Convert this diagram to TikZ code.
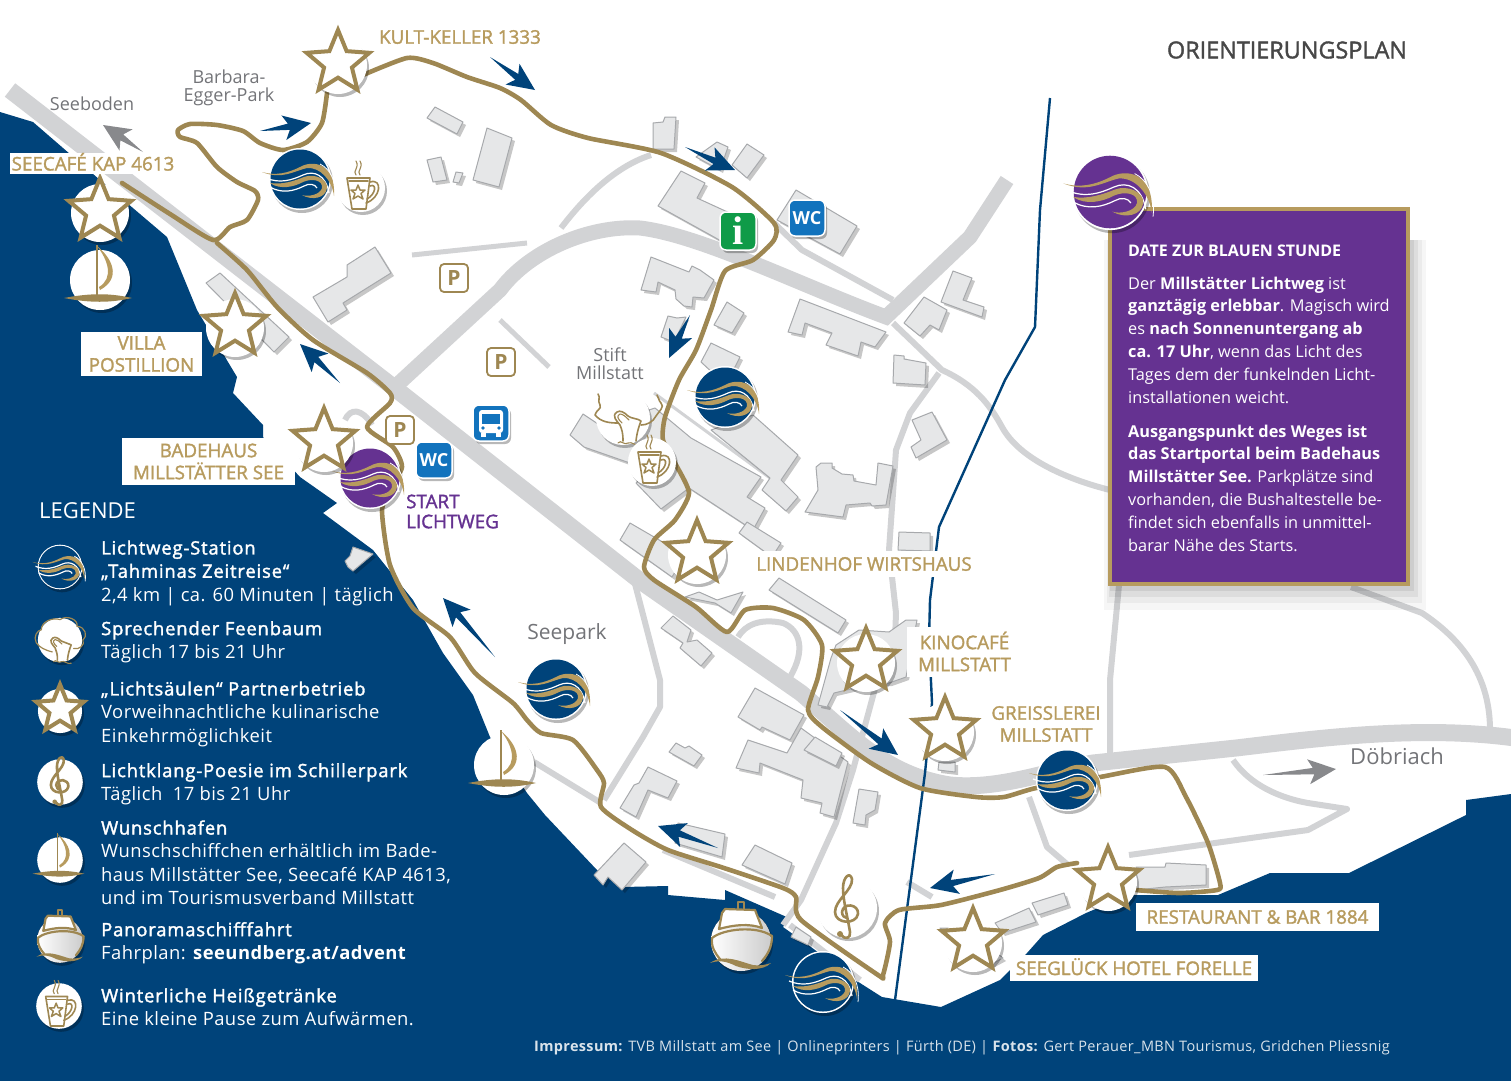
\documentclass[tikz,border=0pt]{standalone}
\usepackage{fontspec}
\usetikzlibrary{shapes.geometric,shadows}
\setmainfont{Open Sans}
\newfontfamily\labelfont[FakeBold=1.6]{Open Sans}
\newfontfamily\legendfont[LetterSpace=2.5]{Open Sans}
\newfontfamily\legendhead[LetterSpace=4.6,FakeBold=1.8]{Open Sans}
\newfontfamily\footfont[LetterSpace=2.3]{Open Sans}
\newfontfamily\signfont{Liberation Serif}
\newcommand{\lh}[1]{{\legendhead #1}}

\definecolor{seablue}{RGB}{0,67,122}
\definecolor{roadgrey}{RGB}{210,211,213}
\definecolor{housefill}{RGB}{230,231,232}
\definecolor{houseline}{RGB}{167,169,172}
\definecolor{trailgold}{RGB}{158,135,82}
\definecolor{labelgold}{RGB}{183,155,94}
\definecolor{lichtpurple}{RGB}{101,50,145}
\definecolor{placegrey}{RGB}{115,116,120}
\definecolor{signblue}{RGB}{18,115,189}
\definecolor{signgreen}{RGB}{15,155,72}

\tikzset{
  softshadow/.style={drop shadow={shadow xshift=2pt,shadow yshift=-3pt,opacity=.28,fill=black}},
  house/.style={fill=housefill,draw=houseline,line width=1pt,line join=round,drop shadow={shadow xshift=3pt,shadow yshift=-3pt,opacity=.22,fill=black}},
  bigroad/.style={draw=roadgrey,line width=17pt},
  midroad/.style={draw=roadgrey,line width=6pt,line join=round},
  trail/.style={draw=trailgold,line width=4.6pt,line join=round,line cap=round},
  goldlabel/.style={fill=white,text=labelgold,font=\labelfont\fontsize{18.8}{22}\selectfont,align=center,inner sep=0pt},
  placename/.style={text=placegrey,font=\fontsize{18}{18}\selectfont,align=center,inner sep=0pt},
  legendtext/.style={text=white,anchor=west,align=left,inner sep=0pt,font=\legendfont\fontsize{18.4}{23.3}\selectfont},
  starmark/.style={star,star points=5,star point ratio=2.25,minimum size=66pt,inner sep=0pt,draw=trailgold,line width=4pt,fill=white,transform shape},
  goldfine/.style={draw=trailgold,line width=1.6pt,line cap=round,line join=round},
  parking/.style={draw=trailgold,fill=white,line width=1.8pt,rounded corners=4pt,minimum size=28pt,inner sep=0pt,text=trailgold,font=\bfseries\fontsize{21}{21}\selectfont},
  roadsign/.style={draw=white,line width=1.5pt,rounded corners=6pt,minimum size=36pt,inner sep=0pt,text=white,softshadow},
}

% direction dart: colour, tail x, tail y, tip x, tip y
\newcommand{\flowdart}[5]{%
  \pgfmathsetmacro\dartang{atan2(#5-#3,#4-#2)}%
  \pgfmathsetmacro\dartlen{veclen(#5-#3,#4-#2)}%
  \begin{scope}[shift={(#2,#3)},rotate=-\dartang]
    \fill[#1] (0,0) -- (\dartlen-23,-3) -- (\dartlen-28,-12) -- (\dartlen,0) -- (\dartlen-27,13) -- (\dartlen-22,3.5) -- cycle;
  \end{scope}}

% the swirl bands of a light station
\newcommand{\swirl}{%
  \draw[white,line width=1.2pt] (-34,-1) .. controls (-20,5) and (-8,1) .. (3,-4) .. controls (14,-9) and (26,-4) .. (29,14);
  \draw[white,line width=1.2pt] (-30,8) .. controls (-18,15) and (-6,12) .. (4,7) .. controls (9,4) and (15,5) .. (17,9);
  \fill[labelgold] (-38,-7) .. controls (-24,-3) and (-12,-6) .. (0,-12) .. controls (12,-19) and (36,-17) .. (34,17) .. controls (32,1) and (20,-12) .. (7,-11) .. controls (-6,-8) and (-18,1) .. (-38,-7) -- cycle;
  \draw[white,line width=.8pt] (20,-15) .. controls (30,-10) and (37,2) .. (35,20);
  \fill[labelgold] (-30,4) .. controls (-18,6) and (-6,2) .. (4,-2) .. controls (14,-6) and (28,0) .. (27,9) .. controls (26,19) and (12,22) .. (2,16) .. controls (8,18) and (20,16) .. (22,9) .. controls (23,1) and (12,-1) .. (3,3) .. controls (-6,8) and (-20,11) .. (-30,4) -- cycle;
}
\newcommand{\stationmark}[4]{%
  \begin{scope}[shift={(#1,#2)},scale=#3]
    \fill[white,softshadow] (0,0) circle (31pt);
    \fill[#4] (0,0) circle (29.5pt);
    \swirl
  \end{scope}}

% star of a partner house: name, x, y, scale
\newcommand{\partnerstar}[4]{%
  \begin{scope}[shift={(#2,#3)},scale=#4]
    \fill[white,softshadow] (0,0) circle (29pt);
    \node[starmark] (#1) at (0,-2) {};
  \end{scope}}

\newcommand{\sailmark}[3]{%
  \begin{scope}[shift={(#1,#2)},scale=#3]
    \fill[white,softshadow] (0,0) circle (30pt);
    \fill[trailgold] (-36,18) .. controls (-10,13) and (10,13) .. (32,18) .. controls (10,23) and (-10,23) .. (-36,18) -- cycle;
    \fill[trailgold] (-4,-35) -- (-2,-35) -- (-2,16) -- (-4,16) -- cycle;
    \fill[labelgold] (-3,-34) .. controls (12,-22) and (22,-2) .. (0,10) -- (-1,7) .. controls (14,-2) and (8,-20) .. (-3,-34) -- cycle;
  \end{scope}}

\newcommand{\cupmark}[3]{%
  \begin{scope}[shift={(#1,#2)},scale=#3]
    \fill[white,softshadow] (0,0) circle (24pt);
    \draw[goldfine] (-14,-10) -- (9,-10) -- (5,21) -- (-9,21) -- cycle;
    \draw[goldfine] (-12,-7) -- (7,-7);
    \draw[goldfine] (9,-6) .. controls (22,-10) and (20,10) .. (5,15);
    \draw[goldfine] (9,-2) .. controls (16,-5) and (15,6) .. (6,11);
    \draw[goldfine,line width=1.5pt] (-3,-3) -- (-1,2) -- (4,2) -- (0,5.5) -- (2,11) -- (-3,8) -- (-8,11) -- (-6,5.5) -- (-10,2) -- (-5,2) -- cycle;
    \draw[goldfine,line width=1.1pt] (-5,-13) .. controls (-9,-17) and (-1,-20) .. (-5,-27);
    \draw[goldfine,line width=1.1pt] (-1,-13) .. controls (-5,-17) and (3,-20) .. (-1,-27);
  \end{scope}}

\newcommand{\clefmark}[3]{%
  \begin{scope}[shift={(#1,#2)},scale=#3]
    \fill[white,softshadow] (0,0) circle (30pt);
    \draw[goldfine,line width=2.6pt] (-6,26) .. controls (-2,33) and (4,30) .. (3,24) .. controls (0,6) and (-4,-8) .. (-4,-20) .. controls (-4,-31) and (3,-37) .. (5,-29) .. controls (6,-18) and (-12,-8) .. (-12,4) .. controls (-12,16) and (9,17) .. (11,6) .. controls (12,-4) and (-4,-6) .. (-5,4) .. controls (-5,8) and (-2,10) .. (0,10);
    \fill[trailgold] (-7,26) circle (3pt);
  \end{scope}}

% tree trunk alone, then with its crown or its bare branches
\newcommand{\feentrunk}{%
  \draw[goldfine,fill=white] (0,23) .. controls (0,15) and (-1,12) .. (-3,7) .. controls (-6,3) and (-12,-2) .. (-6,-6) .. controls (-3,-8) and (1,-6) .. (5,-2) .. controls (9,1) and (14,0) .. (18,3) .. controls (16,8) and (14,14) .. (13,23);
  \draw[goldfine,line width=1.1pt] (-1,5) .. controls (-5,1) and (-7,-2) .. (-3,-4) .. controls (0,-4) and (3,-1) .. (6,2);
  \draw[goldfine,line width=1.1pt] (-5,25) .. controls (-2,21) and (1,28) .. (5,25) .. controls (9,23) and (13,29) .. (18,27);
}
\newcommand{\feenmark}[3]{%
  \begin{scope}[shift={(#1,#2)},scale=#3]
    \fill[white,softshadow] (0,0) circle (27pt);
    \feentrunk
    \draw[goldfine] (-5,5) .. controls (-14,5) and (-22,4) .. (-28,-3) .. controls (-27,-8) and (-21,-9) .. (-23,-13) .. controls (-26,-18) and (-22,-20) .. (-25,-24);
    \draw[goldfine] (18,7) .. controls (24,7) and (30,4) .. (33,-2) .. controls (36,-7) and (42,-11) .. (38,-15) .. controls (35,-18) and (36,-21) .. (34,-23);
  \end{scope}}
\newcommand{\feencrown}[3]{%
  \begin{scope}[shift={(#1,#2)},scale=#3]
    \fill[white,softshadow] (0,0) circle (26pt);
    \draw[goldfine,line width=1.2pt] (-9,14) .. controls (-18,12) and (-25,8) .. (-28,3) .. controls (-32,-4) and (-26,-12) .. (-22,-12) .. controls (-22,-22) and (-8,-27) .. (0,-24) .. controls (8,-30) and (22,-24) .. (20,-16) .. controls (30,-16) and (33,-4) .. (27,0) .. controls (30,6) and (22,12) .. (16,10);
    \begin{scope}[shift={(-3,3)},scale=.9]\feentrunk\end{scope}
  \end{scope}}

\newcommand{\shipmark}[3]{%
  \begin{scope}[shift={(#1,#2)},scale=#3]
    \fill[left color=white,right color=black!20,softshadow] (0,0) circle (30pt);
    \draw[goldfine,line width=2pt] (-3,-31) -- (-3,-39) -- (3,-39) -- (3,-31);
    \draw[goldfine,line width=2.2pt,fill=white] (-19,-28) -- (-16,-32) -- (14,-31) -- (21,-13) .. controls (8,-18) and (-8,-16) .. (-22,-12) -- cycle;
    \draw[goldfine,line width=2.2pt] (-29,-3) .. controls (-18,-12) and (15,-16) .. (31,-5);
    \draw[goldfine,line width=2.2pt] (-29,-3) .. controls (-30,6) and (-26,12) .. (-21,18);
    \draw[goldfine,line width=2.2pt] (31,-5) .. controls (31,6) and (27,13) .. (21,20);
    \fill[trailgold] (-31,22) .. controls (-17,12) and (0,21) .. (12,24) .. controls (18,25) and (24,24) .. (30,22) .. controls (22,30) and (6,29) .. (-5,25) .. controls (-15,20) and (-22,19) .. (-31,22) -- cycle;
  \end{scope}}

\begin{document}
\begin{tikzpicture}[x=1pt,y=-1pt]
\useasboundingbox (0,0) rectangle (1511,1080);

% lake:
\fill[seablue] (0,112) -- (33,122) -- (100,180) -- (167,237) -- (197,310) -- (237,377) -- (233,393) -- (263,425) -- (263,437) -- (300,477) -- (337,503) -- (323,513) -- (373,550) -- (413,600) -- (443,653) -- (473,695) -- (490,737) -- (527,793) -- (545,815) -- (597,870) -- (622,887) -- (668,886) -- (668,895) -- (725,900) -- (725,890) -- (789,918) -- (783,927) -- (811,947) -- (860,983) -- (882,997) -- (941,1007) -- (1000,980) -- (1027,953) -- (1043,935) -- (1086,913) -- (1129,895) -- (1218,895) -- (1270,873) -- (1349,873) -- (1466,815) -- (1466,800) -- (1511,794) -- (1511,1085) -- (-5,1085) -- (-5,112) -- cycle;

% roads:
\draw[bigroad] (10,90) -- (397,390) -- (639,580) -- (801,693) .. controls (850,735) and (885,775) .. (950,785) .. controls (1000,790) and (1050,770) .. (1093,763) -- (1236,748) .. controls (1320,738) and (1420,725) .. (1515,738);
\draw[bigroad,line width=15pt] (397,385) -- (500,290) .. controls (530,250) and (590,225) .. (640,228) .. controls (700,235) and (800,285) .. (886,317) -- (970,237) -- (1007,180);
\draw[midroad] (561,228) .. controls (590,190) and (620,165) .. (651,155);
\draw[midroad,line width=5pt] (412,255) -- (527,243);
\draw[midroad,line width=5pt] (500,320) -- (549,367);
\draw[midroad] (774,223) -- (802,250) -- (893,300);
\draw[midroad] (893,323) -- (942,370) .. controls (975,385) and (990,405) .. (1002,427) .. controls (1020,460) and (1070,480) .. (1110,490);
\draw[midroad] (939,373) -- (910,413) -- (896,450) -- (889,550) -- (896,613) -- (895,640);
\draw[midroad] (880,670) -- (853,770) -- (836,823) -- (801,900) -- (783,925);
\draw[midroad] (634,580) -- (660,680) -- (660,707) -- (643,737) -- (604,800);
\draw[midroad] (738,637) .. controls (745,625) and (760,618) .. (783,623) .. controls (800,630) and (806,650) .. (790,677);
\draw[midroad] (534,762) -- (601,803);
\draw[midroad] (663,850) -- (775,897);
\draw[midroad] (790,925) -- (860,980);
\draw[midroad] (1119,585) -- (1110,680) -- (1110,757);
\draw[midroad] (1351,587) -- (1422,613) .. controls (1455,635) and (1490,670) .. (1490,730);
\draw[midroad] (1233,760) .. controls (1250,785) and (1280,798) .. (1308,803) -- (1347,809) -- (1308,830) -- (1129,855);
\draw[midroad] (1029,797) -- (1047,847) -- (1068,865);
\draw[midroad] (345,420) .. controls (350,408) and (362,408) .. (372,425);
\draw[midroad] (907,882) -- (932,897);
\draw[draw=roadgrey,line width=3pt] (654,393) -- (770,478);
\draw[draw=roadgrey,line width=3pt] (820,740) -- (800,770);

% river:
\draw[seablue,line width=2.4pt] (1050,98) -- (1040,210) -- (1035,327) -- (1005,380) -- (939,527) -- (930,600) -- (929,640) -- (932,703) -- (925,773) -- (895,1000);

% houses:
\filldraw[house] (427,118) -- (435,107) -- (463,122) -- (457,134) -- cycle;
\filldraw[house] (473,180) -- (487,128) -- (512,138) -- (499,187) -- cycle;
\filldraw[house] (427,160) -- (441,157) -- (447,180) -- (433,182) -- cycle;
\filldraw[house] (453,182) -- (456,172) -- (463,173) -- (459,183) -- cycle;
\filldraw[house] (313,297) -- (347,277) -- (347,265) -- (375,247) -- (391,273) -- (343,303) -- (347,310) -- (328,322) -- cycle;
\filldraw[house] (206,283) -- (220,273) -- (289,337) -- (274,352) -- cycle;
\filldraw[house] (345,561) -- (350,556) -- (353,547) -- (373,554) -- (353,571) -- (348,567) -- cycle;
\filldraw[house] (653,149) -- (653,123) -- (663,122) -- (665,117) -- (676,117) -- (674,149) -- cycle;
\filldraw[house] (696,157) -- (717,142) -- (728,147) -- (720,170) -- cycle;
\filldraw[house] (732,165) -- (747,144) -- (764,155) -- (747,178) -- cycle;
\filldraw[house] (658,206) -- (681,171) -- (705,183) -- (697,198) -- (745,220) -- (728,245) -- (714,237) -- cycle;
\filldraw[house] (777,220) -- (796,190) -- (857,226) -- (840,254) -- cycle;
\filldraw[house] (641,290) -- (651,257) -- (689,272) -- (692,266) -- (700,270) -- (714,280) -- (704,298) -- (693,297) -- (692,307) -- (684,306) -- (676,299) -- (675,290) -- (658,282) -- (656,292) -- cycle;
\filldraw[house] (714,325) -- (727,302) -- (744,313) -- (732,333) -- cycle;
\filldraw[house] (661,337) -- (668,316) -- (677,318) -- (686,317) -- (674,342) -- cycle;
\filldraw[house] (701,362) -- (711,343) -- (740,357) -- (735,367) -- (715,375) -- cycle;
\filldraw[house] (711,430) -- (753,415) -- (798,455) -- (781,480) -- (798,497) -- (786,511) -- (762,490) -- (770,478) -- cycle;
\filldraw[house] (570,435) -- (583,414) -- (601,426) -- (655,408) -- (691,438) -- (761,477) -- (747,497) -- (765,508) -- (753,530) -- (689,488) -- (661,509) -- (636,483) -- (650,470) -- (584,447) -- cycle;
\filldraw[house] (788,332) -- (800,299) -- (886,332) -- (875,347) -- (861,342) -- (858,356) -- (826,345) -- (832,333) -- (805,323) -- (802,335) -- cycle;
\filldraw[house] (893,383) -- (894,355) -- (904,356) -- (904,359) -- (926,363) -- (925,385) -- cycle;
\filldraw[house] (904,323) -- (924,297) -- (947,310) -- (939,330) -- (930,325) -- (920,336) -- cycle;
\filldraw[house] (941,302) -- (953,271) -- (972,278) -- (963,300) -- (984,307) -- (982,317) -- cycle;
\filldraw[house] (911,447) -- (921,440) -- (912,420) -- (932,412) -- (947,440) -- (916,458) -- cycle;
\filldraw[house] (805,512) -- (818,490) -- (816,467) -- (821,463) -- (832,463) -- (832,468) -- (842,474) -- (853,475) -- (854,481) -- (876,485) -- (878,463) -- (893,466) -- (886,505) -- (872,506) -- (870,503) -- (846,505) -- (843,517) -- cycle;
\filldraw[house] (898,550) -- (899,532) -- (930,533) -- (930,551) -- cycle;
\filldraw[house] (620,540) -- (630,523) -- (685,555) -- (672,577) -- cycle;
\filldraw[house] (739,533) -- (747,522) -- (781,543) -- (772,557) -- cycle;
\filldraw[house] (769,590) -- (779,578) -- (846,620) -- (838,633) -- cycle;
\filldraw[house] (661,628) -- (673,616) -- (691,630) -- (687,642) -- (697,640) -- (712,653) -- (701,666) -- (680,648) -- (683,643) -- cycle;
\filldraw[house] (685,597) -- (699,592) -- (717,600) -- (743,592) -- (731,613) -- (715,603) -- cycle;
\filldraw[house] (738,717) -- (755,688) -- (804,715) -- (790,740) -- (762,727) -- (760,730) -- cycle;
\filldraw[house] (736,768) -- (748,740) -- (787,753) -- (801,728) -- (848,762) -- (834,817) -- (820,813) -- (822,803) -- (801,798) -- (803,780) -- (760,763) -- (759,773) -- cycle;
\filldraw[house] (804,750) -- (815,737) -- (842,753) -- (836,766) -- cycle;
\filldraw[house] (669,752) -- (676,743) -- (685,748) -- (689,746) -- (702,755) -- (694,766) -- cycle;
\filldraw[house] (620,808) -- (634,785) -- (639,783) -- (648,767) -- (677,781) -- (668,798) -- (648,790) -- (636,817) -- cycle;
\filldraw[house] (675,843) -- (678,823) -- (725,834) -- (722,857) -- cycle;
\filldraw[house] (742,865) -- (755,845) -- (792,863) -- (785,884) -- cycle;
\filldraw[house] (853,823) -- (859,789) -- (878,792) -- (875,810) -- (866,815) -- (865,825) -- cycle;
\filldraw[house] (594,875) -- (624,843) -- (646,862) -- (622,890) -- (608,877) -- (603,885) -- cycle;
\filldraw[house] (818,705) -- (831,658) -- (836,645) -- (859,630) -- (889,632) -- (906,620) -- (917,620) -- (906,677) -- (889,683) -- (876,683) -- (834,693) -- (827,707) -- cycle;
\filldraw[house] (938,770) -- (939,762) -- (955,762) -- (955,772) -- cycle;
\filldraw[house] (791,937) -- (796,927) -- (811,937) -- (808,945) -- cycle;
\filldraw[house] (1136,867) -- (1165,867) -- (1166,863) -- (1206,865) -- (1206,885) -- (1165,887) -- (1136,890) -- cycle;
\filldraw[house] (995,923) -- (1029,908) -- (1036,922) -- (1002,933) -- cycle;
\filldraw[house] (1032,903) -- (1064,893) -- (1068,905) -- (1038,915) -- cycle;
\filldraw[house] (940,928) -- (965,928) -- (1003,958) -- (990,965) -- cycle;

% light trail:
\draw[trail] plot[smooth,tension=.4] coordinates {(122,183) (170,214) (213,240) (230,227) (247,220) (258,200) (255,191) (237,182) (217,167) (197,143) (180,137) (178,130) (190,124) (217,125) (243,131) (260,143) (283,150) (307,142) (322,123) (327,93)};
\draw[trail] plot[smooth,tension=.4] coordinates {(363,75) (407,58) (433,63) (467,77) (500,88) (521,100) (551,125) (588,138) (661,153) (732,187) (774,223) (774,240) (753,260) (725,271) (711,310) (696,350) (679,380) (665,417) (663,440) (675,463) (689,493) (675,520) (654,540) (644,567) (654,580) (696,607) (727,632) (745,610) (773,608) (804,620) (822,645) (818,677) (808,710) (822,727) (871,763) (920,788) (976,797) (1004,797) (1036,788) (1100,777) (1165,767) (1186,797) (1208,843) (1220,883) (1217,890) (1179,893) (1136,890)};
\draw[trail] plot[smooth,tension=.4] coordinates {(1077,863) (1057,867) (1039,878) (1000,890) (941,905) (899,910) (885,923) (890,942) (883,975) (878,975) (801,920) (796,897) (783,888) (724,868) (668,850) (632,830) (601,807) (604,783) (597,770) (573,740) (541,733) (527,720) (513,703) (475,673) (450,637) (413,608) (390,565) (382,511) (390,490) (402,467) (393,447) (367,427) (390,403) (390,393) (367,373) (313,340) (277,307) (247,270) (217,243)};

% direction darts:
\flowdart{placegrey!85}{143}{152}{103}{125}
\flowdart{seablue}{260}{131}{311}{123}
\flowdart{seablue}{490}{57}{535}{90}
\flowdart{seablue}{685}{147}{735}{170}
\flowdart{seablue}{690}{315}{669}{358}
\flowdart{seablue}{340}{383}{300}{344}
\flowdart{seablue}{495}{657}{443}{598}
\flowdart{seablue}{840}{710}{898}{755}
\flowdart{seablue}{718}{848}{658}{826}
\flowdart{seablue}{995}{874}{930}{888}
\flowdart{placegrey!85}{1263}{775}{1336}{769}

% signs:
\node[parking] (parknorth) at (454,278) {P};
\node[parking] (parkmiddle) at (501,362) {P};
\node[parking] (parksouth) at (400,430) {P};
\node[roadsign,fill=signblue,font=\bfseries\fontsize{18}{18}\selectfont] (wcnorth) at (807,218) {WC};
\node[roadsign,fill=signblue,font=\bfseries\fontsize{18}{18}\selectfont] (wcstart) at (434,460) {WC};
\node[roadsign,fill=signgreen,minimum height=38pt,font=\signfont\bfseries\fontsize{40}{40}\selectfont] (info) at (738,231) {i};
\node[roadsign,fill=signblue] (busstop) at (491,423) {};
\fill[white,rounded corners=3pt] (479,410) rectangle (503,433);
\fill[white] (481,433) rectangle (486,437);
\fill[white] (496,433) rectangle (501,437);
\fill[signblue] (482,414) rectangle (500,424);
\fill[signblue] (483,428) circle (1.8pt);
\fill[signblue] (499,428) circle (1.8pt);

% stations and icons:
\stationmark{300}{179}{1}{seablue}
\stationmark{725}{397}{1}{seablue}
\stationmark{556}{689}{1}{seablue}
\stationmark{1067}{780}{1}{seablue}
\stationmark{823}{982}{1}{seablue}
\stationmark{370}{478}{1}{lichtpurple}
\feenmark{623}{418}{1}
\cupmark{361}{188}{1}
\cupmark{652}{462}{1}
\sailmark{100}{280}{1}
\sailmark{504}{765}{1}
\clefmark{847}{908}{1}
\shipmark{741}{941}{1}
\partnerstar{starkult}{338}{65}{1}
\partnerstar{starseecafe}{100}{213}{1}
\partnerstar{starvilla}{235}{328}{1}
\partnerstar{starbadehaus}{324}{443}{1}
\partnerstar{starlindenhof}{697}{555}{1}
\partnerstar{starkino}{866}{663}{1}
\partnerstar{stargreissler}{945}{732}{1}
\partnerstar{starrestaurant}{1108}{882}{1}
\partnerstar{starseegluck}{973}{943}{1}

% house labels:
\node[goldlabel,fill=none] (kultkeller) at (460,37) {KULT-KELLER 1333};
\node[goldlabel,minimum width=166pt,minimum height=21pt,text height=14pt,text depth=0pt] (seecafe) at (93,163.5) {SEECAFÉ KAP 4613};
\node[goldlabel,minimum width=121pt,minimum height=44pt] (villa) at (141.5,354) {VILLA\\POSTILLION};
\node[goldlabel,minimum width=173pt,minimum height=47pt] (badehaus) at (208.5,461.5) {BADEHAUS\\MILLSTÄTTER SEE};
\node[goldlabel,minimum width=230pt,minimum height=26pt] (lindenhof) at (864,564) {LINDENHOF WIRTSHAUS};
\node[goldlabel,minimum width=115pt,minimum height=50pt] (kinocafe) at (964.5,651.5) {KINOCAFÉ\\MILLSTATT};
\node[goldlabel,fill=none] (greisslerei) at (1046,724) {GREISSLEREI\\MILLSTATT};
\node[goldlabel,minimum width=243pt,minimum height=28pt] (restaurant) at (1257.5,917) {RESTAURANT \& BAR 1884};
\node[goldlabel,minimum width=248pt,minimum height=26pt,text height=14pt,text depth=0pt] (seegluck) at (1134,968) {SEEGLÜCK HOTEL FORELLE};
\node[goldlabel,fill=none,text=lichtpurple,anchor=west,align=left] (startlichtweg) at (406,511.5) {START\\[-2pt]LICHTWEG};

% place names:
\node[placename] (seeboden) at (92,104) {Seeboden};
\node[placename] (eggerpark) at (229,88) {Barbara-\\Egger-Park};
\node[placename] (stift) at (610,364) {Stift\\Millstatt};
\node[placename,font=\fontsize{21}{21}\selectfont] (seepark) at (567,634) {Seepark};
\node[placename,font=\fontsize{22}{22}\selectfont] (doebriach) at (1397,756) {Döbriach};
\node[text=black!72,inner sep=0pt,font=\labelfont\fontsize{23.4}{22}\selectfont] (plantitle) at (1287,50) {ORIENTIERUNGSPLAN};

% info box:
\fill[black,opacity=.035] (1104,240) rectangle (1426,610);
\fill[black,opacity=.045] (1107,240) rectangle (1422,603);
\fill[black,opacity=.06] (1109,240) rectangle (1418,597);
\fill[black,opacity=.07] (1110,240) rectangle (1414,591);
\filldraw[draw=labelgold,fill=lichtpurple,line width=4pt] (1110,209) rectangle (1408,584);
\stationmark{1110}{192}{1.23}{lichtpurple}
\node[text=white,anchor=west,inner sep=0pt,font=\bfseries\fontsize{16}{16}\selectfont] (boxtitle) at (1128,251) {DATE ZUR BLAUEN STUNDE};
\node[text=white,anchor=west,align=left,inner sep=0pt,font=\fontsize{16.3}{22.8}\selectfont] (boxone) at (1128,340) {Der \textbf{Millstätter Lichtweg} ist\\\textbf{ganztägig erlebbar}. Magisch wird\\es \textbf{nach Sonnenuntergang ab}\\\textbf{ca. 17 Uhr}, wenn das Licht des\\Tages dem der funkelnden Licht-\\installationen weicht.};
\node[text=white,anchor=west,align=left,inner sep=0pt,font=\fontsize{16.3}{22.8}\selectfont] (boxtwo) at (1128,488) {\textbf{Ausgangspunkt des Weges ist}\\\textbf{das Startportal beim Badehaus}\\\textbf{Millstätter See.} Parkplätze sind\\vorhanden, die Bushaltestelle be-\\findet sich ebenfalls in unmittel-\\barar Nähe des Starts.};

% legend:
\node[text=white,anchor=west,inner sep=0pt,font=\fontsize{22}{22}\selectfont] (legendtitle) at (39,511) {LEGENDE};
\stationmark{60}{567}{0.72}{seablue}
\feencrown{60}{640}{0.85}
\partnerstar{starlegend}{60}{711}{0.76}
\clefmark{60}{782}{0.76}
\sailmark{60}{860}{0.76}
\shipmark{60}{940}{0.76}
\cupmark{59}{1006}{0.95}
\node[legendtext] (itemstation) at (101,573) {\lh{Lichtweg-Station}\\\lh{„Tahminas Zeitreise“}\\2,4 km | ca. 60 Minuten | täglich};
\node[legendtext] (itemfeen) at (101,642) {\lh{Sprechender Feenbaum}\\Täglich 17 bis 21 Uhr};
\node[legendtext] (itemstar) at (101,714) {\lh{„Lichtsäulen“ Partnerbetrieb}\\Vorweihnachtliche kulinarische\\Einkehrmöglichkeit};
\node[legendtext] (itemclef) at (101,784) {\lh{Lichtklang-Poesie im Schillerpark}\\Täglich\ \ 17 bis 21 Uhr};
\node[legendtext] (itemsail) at (101,862.5) {\lh{Wunschhafen}\\Wunschschiffchen erhältlich im Bade-\\haus Millstätter See, Seecafé KAP 4613,\\und im Tourismusverband Millstatt};
\node[legendtext] (itemship) at (101,943) {\lh{Panoramaschifffahrt}\\Fahrplan: \textbf{seeundberg.at/advent}};
\node[legendtext] (itemcup) at (101,1007) {\lh{Winterliche Heißgetränke}\\Eine kleine Pause zum Aufwärmen.};

% imprint:
\node[text=white!85!seablue,anchor=west,inner sep=0pt,font=\footfont\fontsize{14.5}{14.5}\selectfont] (imprint) at (534,1048) {\textbf{Impressum:} TVB Millstatt am See | Onlineprinters | Fürth (DE) | \textbf{Fotos:} Gert Perauer\_MBN Tourismus, Gridchen Pliessnig};

\end{tikzpicture}
\end{document}
